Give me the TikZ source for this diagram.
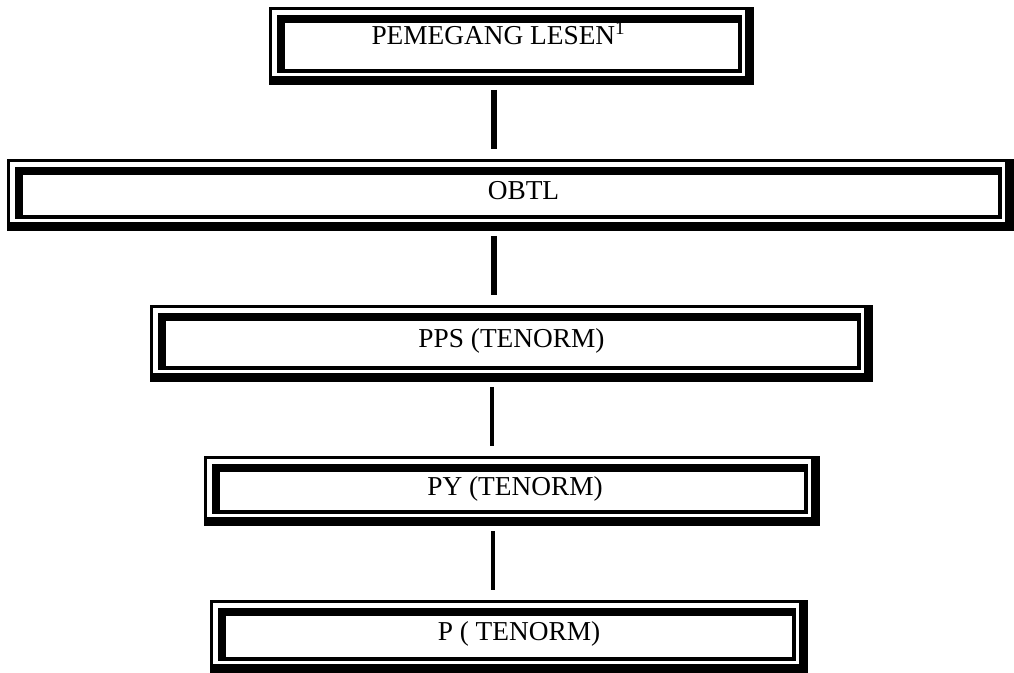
\documentclass[tikz,border=0pt]{standalone}
\usepackage{fontspec}
\setmainfont{Liberation Serif}
\usetikzlibrary{calc}

\newdimen\px \px=0.75pt
% double frame: thin-thick outside, thick-thin inside
\newcommand{\bingkai}[1]{%
  \fill (#1.north west) rectangle ($(#1.north east)+(0,3)$);
  \fill (#1.north west) rectangle ($(#1.south west)+(3,0)$);
  \fill ($(#1.north east)+(-9,0)$) rectangle (#1.south east);
  \fill ($(#1.south west)+(0,-9)$) rectangle (#1.south east);
  \fill ($(#1.north west)+(8,8)$) rectangle ($(#1.north east)+(-12,16)$);
  \fill ($(#1.north west)+(8,8)$) rectangle ($(#1.south west)+(16,-12)$);
  \fill ($(#1.north east)+(-16,8)$) rectangle ($(#1.south east)+(-12,-12)$);
  \fill ($(#1.south west)+(8,-16)$) rectangle ($(#1.south east)+(-12,-12)$);
}
\tikzset{
  kotak/.style={inner sep=0pt, outer sep=0pt, text height=0.66em, text depth=0pt,
    font=\fontsize{20.5}{22}\selectfont},
  tiang/.style={line width=#1, shorten <=5\px, shorten >=10\px},
  tiang/.default=6\px
}

\begin{document}
\begin{tikzpicture}[x=0.75pt,y=-0.75pt]
  \useasboundingbox (0,0) rectangle (1014,673);
  \node[kotak, minimum width=485\px, minimum height=78\px, text depth=12\px] (lesen) at (511.5,46) {PEMEGANG LESEN\textsuperscript{1}\kern26\px};
  \node[kotak, minimum width=1007\px, minimum height=72\px] (obtl) at (510.5,195) {\hspace{26\px}OBTL};
  \node[kotak, minimum width=723\px, minimum height=77\px] (pps) at (511.5,343.5) {PPS (TENORM)};
  \node[kotak, minimum width=616\px, minimum height=70\px] (py) at (512,491) {\hspace{6\px}PY (TENORM)};
  \node[kotak, minimum width=598\px, minimum height=73\px] (p) at (509,636.5) {\hspace{20\px}P ( TENORM)};
  \foreach \n in {lesen,obtl,pps,py,p} {\bingkai{\n}}
  % connectors
  \coordinate (poros) at (494,0);
  \draw[tiang] (lesen.south -| poros) -- (obtl.north -| poros);
  \draw[tiang] (obtl.south -| poros) -- (pps.north -| poros);
  \draw[tiang=4\px] ($(pps.south -| poros)+(-2,0)$) -- ($(py.north -| poros)+(-2,0)$);
  \draw[tiang=4\px] ($(py.south -| poros)+(-1,0)$) -- ($(p.north -| poros)+(-1,0)$);
\end{tikzpicture}
\end{document}
